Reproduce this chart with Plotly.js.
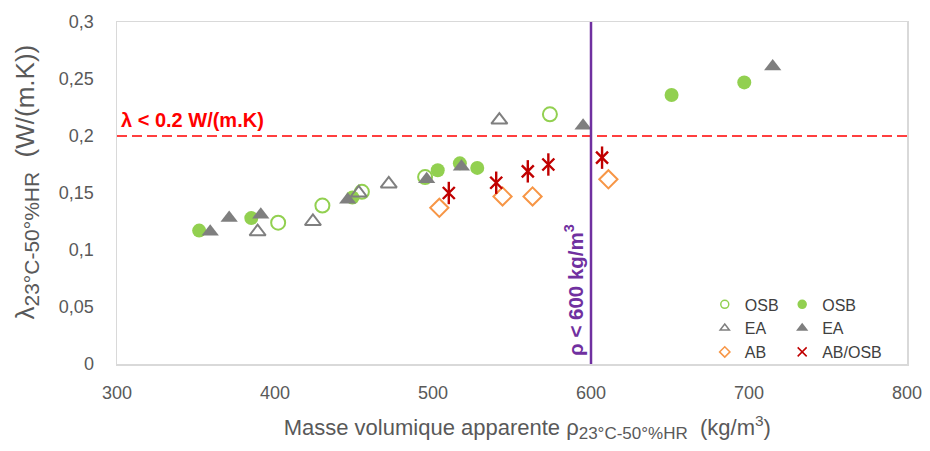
<!DOCTYPE html>
<html>
<head>
<meta charset="utf-8">
<script src="https://cdn.plot.ly/plotly-3.0.1.min.js"></script>
<style>html,body{margin:0;padding:0;background:#fff;}#chart{width:930px;height:451px;}</style>
</head>
<body>
<div id="chart"></div>
<script>
// ---- data ----
const osbOpenX   = [402, 430, 455, 495, 574];
const osbOpenY   = [0.124, 0.139, 0.151, 0.164, 0.219];
const osbFilledX = [352, 385, 449, 503, 517, 528, 651, 697];
const osbFilledY = [0.117, 0.128, 0.146, 0.170, 0.176, 0.172, 0.236, 0.247];
const eaOpenX    = [389, 424, 453, 472, 542];
const eaOpenY    = [0.116, 0.125, 0.150, 0.158, 0.214];
const eaFilledX  = [359, 371, 391, 446, 496, 518, 595, 715];
const eaFilledY  = [0.116, 0.128, 0.131, 0.144, 0.162, 0.173, 0.209, 0.261];
const abX        = [504, 544, 563, 611];
const abY        = [0.137, 0.147, 0.147, 0.162];
const abOsbX     = [510, 540, 560, 573, 607];
const abOsbY     = [0.150, 0.159, 0.169, 0.175, 0.181];

const lambdaLimit = 0.2;
const rhoLimit = 600;

const yTickVals = [0, 0.05, 0.1, 0.15, 0.2, 0.25, 0.3];
const yTickText = ['0', '0,05', '0,1', '0,15', '0,2', '0,25', '0,3'];
const xTickVals = [300, 400, 500, 600, 700, 800];

// ---- styles ----
const GREEN = '#92d050', GREY = '#7f7f7f', ORANGE = '#f79646', RED = '#c00000';
const MS = 14;

function pts(x, y, marker) {
  return {type: 'scatter', mode: 'markers', x: x, y: y, showlegend: false, hoverinfo: 'skip', marker: marker};
}
function leg(name, symbol, color, legendId, size) {
  return {
    type: 'scatter', mode: 'markers', x: [null], y: [null], name: name, legend: legendId,
    marker: {symbol: symbol, color: color, size: size || 8, line: {width: 1.5, color: color}}
  };
}

const data = [
  pts(osbOpenX, osbOpenY, {symbol: 'circle-open', color: GREEN, size: MS, line: {width: 2, color: GREEN}}),
  pts(osbFilledX, osbFilledY, {symbol: 'circle', color: GREEN, size: MS}),
  pts(eaOpenX, eaOpenY, {symbol: 'triangle-up-open', color: GREY, size: MS, line: {width: 2, color: GREY}}),
  pts(eaFilledX, eaFilledY, {symbol: 'triangle-up', color: GREY, size: MS + 1}),
  pts(abX, abY, {symbol: 'diamond-open', color: ORANGE, size: MS, line: {width: 2, color: ORANGE}}),
  pts(abOsbX, abOsbY, {symbol: 'x-thin-open', color: RED, size: 12, line: {width: 2.4, color: RED}}),
  pts(abOsbX, abOsbY, {symbol: 'line-ns-open', color: RED, size: 16, line: {width: 2.4, color: RED}}),
  // legend entries
  leg('OSB', 'circle-open', GREEN, 'legend'),
  leg('EA', 'triangle-up-open', GREY, 'legend'),
  leg('AB', 'diamond-open', ORANGE, 'legend'),
  leg('OSB', 'circle', GREEN, 'legend2'),
  leg('EA', 'triangle-up', GREY, 'legend2'),
  leg('AB/OSB', 'x-thin-open', RED, 'legend2', 9)
];

const txt = '#595959';
const baseFont = 'Liberation Sans, Arial, sans-serif';
const legendCommon = {
  bgcolor: 'rgba(0,0,0,0)', borderwidth: 0,
  font: {family: baseFont, size: 16, color: '#404040'},
  xref: 'paper', yref: 'paper', xanchor: 'left', yanchor: 'top',
  tracegroupgap: 0, itemclick: false
};

const pad = n => '\u200b' + '\u00a0'.repeat(n);

const layout = {
  width: 930, height: 451,
  margin: {l: 117, r: 23, t: 22, b: 87},
  paper_bgcolor: '#ffffff', plot_bgcolor: '#ffffff',
  font: {family: baseFont, color: txt},
  showlegend: true,
  legend: Object.assign({}, legendCommon, {x: 0.744, y: 0.224}),
  legend2: Object.assign({}, legendCommon, {x: 0.842, y: 0.224}),
  xaxis: {
    range: [300, 800], tickvals: xTickVals, ticks: '', showgrid: false, zeroline: false,
    showline: true, mirror: true, linecolor: '#d9d9d9', linewidth: 1.5,
    tickfont: {family: baseFont, size: 18, color: txt}, ticklabelstandoff: 12,
    title: {text: pad(5) + 'Masse volumique apparente ρ<sub><span style="font-size:17px">23°C-50°%HR</span></sub>  (kg/m<sup>3</sup>)',
            font: {family: baseFont, size: 22, color: txt}, standoff: 17}
  },
  yaxis: {
    range: [0, 0.3], tickvals: yTickVals, ticktext: yTickText, ticks: '', showgrid: false, zeroline: false,
    showline: true, mirror: true, linecolor: '#d9d9d9', linewidth: 1.5,
    tickfont: {family: baseFont, size: 18, color: txt}, ticklabelstandoff: 18,
    title: {text: pad(3) + 'λ<sub><span style="font-size:21px">23°C-50°%HR</span></sub>\u00a0 (W/(m.K))',
            font: {family: baseFont, size: 26, color: txt}, standoff: 17}
  },
  shapes: [
    {type: 'line', xref: 'paper', x0: 0, x1: 1, yref: 'y', y0: lambdaLimit, y1: lambdaLimit,
     line: {color: '#ff0000', width: 1.5, dash: '10px,5px'}, layer: 'below'},
    {type: 'line', xref: 'x', x0: rhoLimit, x1: rhoLimit, yref: 'paper', y0: 0, y1: 1,
     line: {color: '#7030a0', width: 2.5}, layer: 'above'}
  ],
  annotations: [
    {xref: 'paper', x: 0, xanchor: 'left', xshift: 2, yref: 'y', y: lambdaLimit, yanchor: 'bottom', yshift: 3,
     text: '<b>λ < 0.2 W/(m.K)</b>', showarrow: false,
     font: {family: baseFont, size: 20, color: '#ff0000'}},
    {xref: 'x', x: rhoLimit, xanchor: 'right', xshift: -2, yref: 'paper', y: 0, yanchor: 'bottom', yshift: 6,
     text: '<b>ρ < 600 kg/m<sup>3</sup></b>', textangle: -90, showarrow: false,
     font: {family: baseFont, size: 20.5, color: '#7030a0'}}
  ]
};

Plotly.newPlot('chart', data, layout, {displayModeBar: false, staticPlot: true});
</script>
</body>
</html>
